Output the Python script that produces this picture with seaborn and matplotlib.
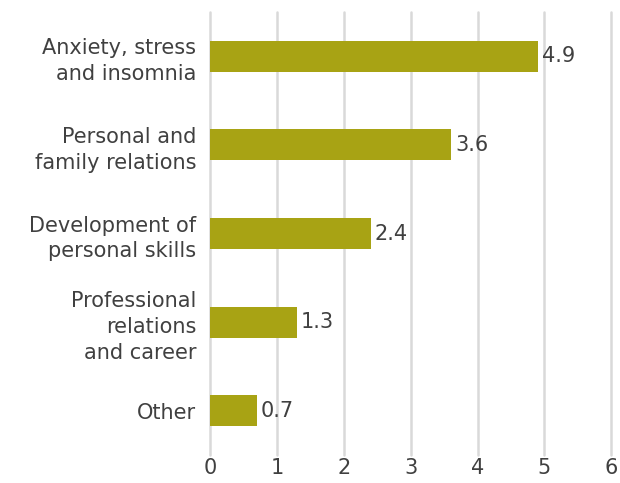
import matplotlib
matplotlib.use("Agg")
import matplotlib.pyplot as plt
import seaborn as sns
import pandas as pd

categories = [
    "Anxiety, stress\nand insomnia",
    "Personal and\nfamily relations",
    "Development of\npersonal skills",
    "Professional\nrelations\nand career",
    "Other",
]
values = [4.9, 3.6, 2.4, 1.3, 0.7]
x_ticks = [0, 1, 2, 3, 4, 5, 6]

df = pd.DataFrame({"category": categories, "value": values})

sns.set_style("white")
plt.rcParams["font.family"] = ["DejaVu Sans"]

text_color = "#404040"
bar_color = "#A8A314"

fig = plt.figure(figsize=(6.2, 4.83), dpi=100)
ax = fig.add_axes([0.339, 0.058, 0.647, 0.917])

sns.barplot(data=df, x="value", y="category", orient="h", color=bar_color,
            width=0.35, saturation=1, ax=ax, zorder=3, linewidth=0)

ax.set_xlim(0, 6)
ax.set_ylim(4.5, -0.5)
ax.set_xticks(x_ticks)
ax.set_xticklabels([str(t) for t in x_ticks])
ax.xaxis.grid(True, color="#D9D9D9", linewidth=1.8, zorder=0)
for gl in ax.get_xgridlines():
    gl.set_clip_on(False)
ax.yaxis.grid(False)
for s in ax.spines.values():
    s.set_visible(False)
ax.set_xlabel("")
ax.set_ylabel("")
ax.tick_params(axis="x", length=0, labelsize=15, colors=text_color, pad=2)
ax.tick_params(axis="y", length=0, labelsize=15, colors=text_color, pad=10)
for lbl in ax.get_yticklabels():
    lbl.set_horizontalalignment("right")
    lbl.set_multialignment("right")
    lbl.set_linespacing(1.35)

for i, v in enumerate(values):
    ax.text(v + 0.06, i, f"{v:.1f}", va="center", ha="left", fontsize=15,
            color=text_color, zorder=4)

fig.savefig("out.png", dpi=100)
